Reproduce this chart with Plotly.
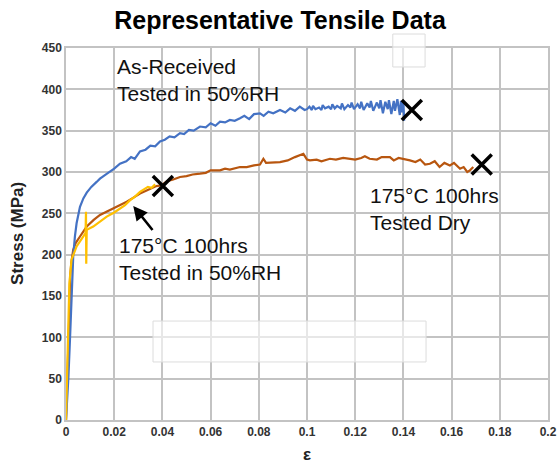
import plotly.graph_objects as go

# As-Received, tested in 50%RH
asrec_strain = [0, 0.0005, 0.001, 0.0017, 0.0023, 0.003, 0.0037, 0.0044, 0.0058, 0.0072, 0.0086, 0.0105,
                0.0127, 0.0141, 0.016, 0.018, 0.02, 0.0224, 0.025, 0.027, 0.0285, 0.0307, 0.033, 0.035,
                0.037, 0.039, 0.041, 0.043, 0.045, 0.0473, 0.049, 0.051, 0.053, 0.0556, 0.058, 0.06,
                0.062, 0.0639, 0.066, 0.068, 0.07, 0.0722, 0.074, 0.076, 0.078, 0.0805, 0.082, 0.084,
                0.086, 0.0888, 0.091, 0.093, 0.095, 0.097, 0.099,
                0.1, 0.101, 0.102, 0.1025, 0.1035, 0.105, 0.106, 0.1065, 0.1075, 0.109, 0.11, 0.1105,
                0.1115, 0.1125, 0.114, 0.1145, 0.1155, 0.117, 0.118, 0.1185, 0.1195, 0.121, 0.122,
                0.1225, 0.1235, 0.125, 0.126, 0.1265, 0.1275, 0.129, 0.13, 0.1305, 0.1315, 0.1325,
                0.1335, 0.134, 0.135, 0.136, 0.1365, 0.1375, 0.1385, 0.139, 0.1395, 0.14, 0.1403]
asrec_stress = [0, 25, 52, 101, 149, 198, 222, 238, 258, 268, 275, 282,
                288, 292, 296, 300, 304, 310, 313, 318, 316, 325, 327, 332,
                331, 337, 339, 343, 342, 347, 346, 351, 350, 355, 354, 359,
                356, 361, 360, 363, 362, 365, 368, 364, 370, 371, 368, 373,
                371, 375, 372, 377, 374, 379, 375,
                376, 379, 375, 380, 376, 378, 375, 381, 377, 379, 376, 382,
                377, 380, 377, 383, 376, 381, 378, 384, 376, 382, 377,
                385, 375, 383, 378, 386, 374, 384, 377, 387, 371, 385,
                376, 387, 370, 386, 374, 388, 369, 386, 372, 385, 362]

# 175°C 100hrs, tested dry
dry_strain = [0, 0.0008, 0.0013, 0.0017, 0.0022, 0.003, 0.004, 0.0058, 0.0086, 0.0115, 0.0141, 0.0168,
              0.0196, 0.0225, 0.0252, 0.028, 0.0307, 0.033, 0.035, 0.0375, 0.0397, 0.042, 0.0445,
              0.0473, 0.05, 0.0525, 0.0556, 0.058, 0.06, 0.0639, 0.066, 0.068, 0.0722, 0.075, 0.078,
              0.0805, 0.0819, 0.083, 0.0888, 0.092, 0.095, 0.097, 0.0985, 0.1, 0.1012, 0.104, 0.106,
              0.1095, 0.112, 0.115, 0.1178, 0.12, 0.1225, 0.124, 0.126, 0.129, 0.131, 0.1344, 0.136,
              0.138, 0.1427, 0.145, 0.147, 0.149, 0.151, 0.153, 0.155, 0.157, 0.1593, 0.161, 0.1635,
              0.165, 0.1665, 0.1676, 0.169]
dry_stress = [0, 60, 120, 173, 190, 206, 214, 222, 234, 242, 248, 252,
              256, 260, 264, 269, 274, 277, 280, 283, 284, 289, 291,
              294, 295, 297, 298, 299, 302, 302, 304, 303, 306, 306, 308,
              309, 316, 311, 312, 314, 318, 320, 322, 315, 314, 315, 313,
              316, 315, 317, 316, 315, 317, 319, 316, 315, 318, 318, 314,
              317, 314, 312, 315, 309, 310, 313, 306, 311, 308, 311, 304,
              306, 300, 302, 306]

# 175°C 100hrs, tested in 50%RH
wet_strain = [0, 0.0004, 0.0009, 0.0014, 0.0023, 0.0044, 0.0072, 0.0081, 0.0083, 0.0084, 0.0086,
              0.0113, 0.014, 0.0169, 0.02, 0.0224, 0.0245, 0.0266, 0.0285, 0.0307, 0.032, 0.034,
              0.0355, 0.037]
wet_stress = [0, 45, 117, 165, 194, 210, 222, 226, 252, 189, 230,
              234, 240, 246, 251, 256, 260, 266, 270, 276, 278, 282,
              281, 285]

# failure points (X markers)
fail_strain = [0.1435, 0.1725, 0.0402]
fail_stress = [375, 309, 283]

x_ticks = [0, 0.02, 0.04, 0.06, 0.08, 0.1, 0.12, 0.14, 0.16, 0.18, 0.2]
x_ticklabels = ["0", "0.02", "0.04", "0.06", "0.08", "0.1", "0.12", "0.14", "0.16", "0.18", "0.2"]
y_ticks = [0, 50, 100, 150, 200, 250, 300, 350, 400, 450]

FONT = "Arial, Liberation Sans, sans-serif"
GRID = "#c3c3c3"

fig = go.Figure()
fig.add_trace(go.Scatter(x=dry_strain, y=dry_stress, mode="lines",
                         line=dict(color="#B8560F", width=2.2), showlegend=False))
fig.add_trace(go.Scatter(x=asrec_strain, y=asrec_stress, mode="lines",
                         line=dict(color="#4472C4", width=2.2), showlegend=False))
fig.add_trace(go.Scatter(x=wet_strain, y=wet_stress, mode="lines",
                         line=dict(color="#FFC000", width=2.2), showlegend=False))
fig.add_trace(go.Scatter(x=fail_strain, y=fail_stress, mode="markers",
                         marker=dict(symbol="x-thin", size=20,
                                     line=dict(color="black", width=3.5)),
                         showlegend=False))

txt = dict(color="#111111", size=21, family=FONT)
fig.add_annotation(x=0.0205, y=411, xref="x", yref="y", text="As-Received<br>Tested in 50%RH",
                   showarrow=False, xanchor="left", yanchor="middle", align="left", font=txt)
fig.add_annotation(x=0.0212, y=195, xref="x", yref="y", text="175°C 100hrs<br>Tested in 50%RH",
                   showarrow=False, xanchor="left", yanchor="middle", align="left", font=txt)
fig.add_annotation(x=0.1253, y=255, xref="x", yref="y", text="175°C 100hrs<br>Tested Dry",
                   showarrow=False, xanchor="left", yanchor="middle", align="left", font=txt)
fig.add_annotation(x=0.0279, y=259, ax=0.0364, ay=228, xref="x", yref="y", axref="x", ayref="y",
                   showarrow=True, arrowhead=2, arrowsize=1.1, arrowwidth=2.6, arrowcolor="black", text="")

# axis titles
fig.add_annotation(x=0.5, y=-0.094, xref="paper", yref="paper", text="<b>ε</b>", showarrow=False,
                   xanchor="center", yanchor="middle", font=dict(size=17, color="#222222", family=FONT))
fig.add_annotation(x=-0.0996, y=0.503, xref="paper", yref="paper", text="<b>Stress (MPa)</b>",
                   showarrow=False, textangle=-90, xanchor="center", yanchor="middle",
                   font=dict(size=17, color="#222222", family=FONT))

# leftover empty text boxes
fig.add_shape(type="rect", xref="paper", yref="paper", x0=0.678, x1=0.745, y0=0.949, y1=1.0376,
              fillcolor="rgba(255,255,255,0.6)", line=dict(color="#dcdcdc", width=1), layer="above")
fig.add_shape(type="rect", xref="paper", yref="paper", x0=0.1805, x1=0.747, y0=0.156, y1=0.266,
              fillcolor="rgba(255,255,255,0.6)", line=dict(color="#dcdcdc", width=1), layer="above")

fig.update_layout(
    width=560, height=467,
    margin=dict(l=66, r=12, t=48, b=47, autoexpand=False),
    paper_bgcolor="white", plot_bgcolor="white",
    title=dict(text="<b>Representative Tensile Data</b>", x=0.5, xanchor="center",
               y=0.957, yanchor="middle", font=dict(size=25, color="black", family=FONT)),
)
fig.update_xaxes(range=[0, 0.2], tickvals=x_ticks, ticktext=x_ticklabels, automargin=False,
                 showgrid=True, gridcolor=GRID, gridwidth=1.5,
                 showline=True, linecolor=GRID, linewidth=1.5, mirror=True, zeroline=False,
                 ticks="", tickfont=dict(size=12, color="#333333", family=FONT, weight="bold"))
fig.update_yaxes(range=[0, 450], tickvals=y_ticks, automargin=False,
                 showgrid=True, gridcolor=GRID, gridwidth=1.5,
                 showline=True, linecolor=GRID, linewidth=1.5, mirror=True, zeroline=False,
                 ticks="", tickfont=dict(size=12, color="#333333", family=FONT, weight="bold"))

fig.write_html("out.html")
